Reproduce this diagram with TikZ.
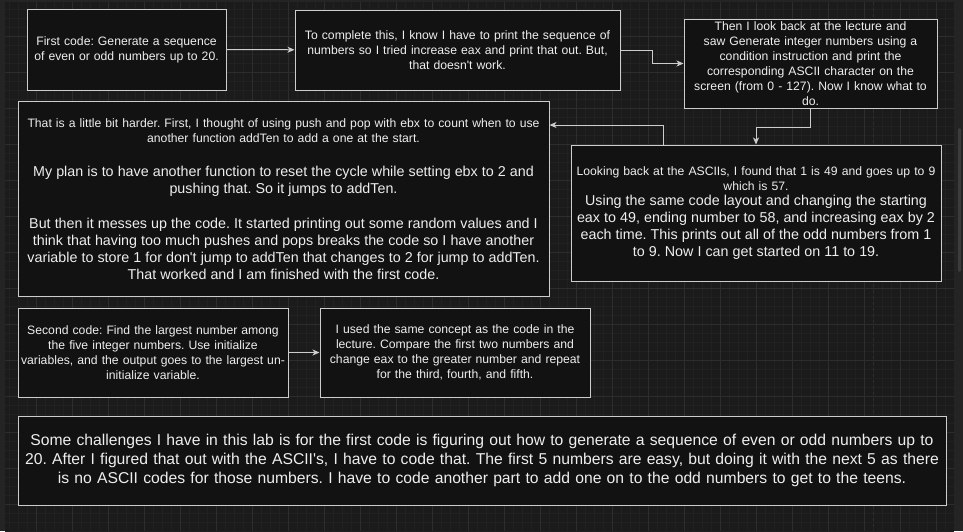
\documentclass[tikz,border=0pt]{standalone}
\usepackage{fontspec}
\setmainfont{Liberation Sans}[Ligatures=TeXOff]
\usetikzlibrary{arrows.meta}
\frenchspacing

\definecolor{bgcol}{HTML}{1B1B1B}
\definecolor{minorcol}{HTML}{212121}
\definecolor{majorcol}{HTML}{2D2D2D}
\definecolor{panelcol}{HTML}{242424}
\definecolor{thumbcol}{HTML}{3C3C3C}
\definecolor{boxcol}{HTML}{121212}
\definecolor{edgecol}{HTML}{CDCDCD}
\definecolor{txtcol}{HTML}{EEEEEE}

\newcommand{\fsa}{\fontsize{12.2}{15}\selectfont}
\newcommand{\fsb}{\fontsize{14.3}{17}\selectfont}
\newcommand{\fsc}{\fontsize{15.7}{19}\selectfont}

\tikzset{
  box/.style={draw=edgecol, fill=boxcol, text=txtcol, line width=1pt,
    inner sep=0pt, align=center, font=\fsa},
  conn/.style={draw=edgecol, line width=1pt,
    -{Stealth[length=7pt,width=6pt,inset=2pt]}},
}

\begin{document}
\begin{tikzpicture}[x=1pt,y=-1pt]
\useasboundingbox (0,0) rectangle (963,531);
% canvas
\fill [bgcol] (0,0) rectangle (963,531);
\draw [minorcol, line width=0.6pt, step=9pt] (5,2) grid (954,531);
\draw [majorcol, line width=0.8pt, step=36pt] (5,2) grid (954,531);
\draw [majorcol, line width=0.8pt, dashed] (108,2) -- (108,531) (873,2) -- (873,531);
\fill [panelcol] (0,0) rectangle (963,2);
\fill [panelcol] (0,0) rectangle (5,531);
\fill [panelcol] (954,2) rectangle (963,531);
\fill [thumbcol, rounded corners=1.5pt] (958,128) rectangle (961,272);
% boxes
\node [box, minimum width=199pt, minimum height=81pt, text width=199pt] (first) at (126.5,49.5)
  {First code: Generate a sequence\\of even or odd numbers up to 20.};
\node [box, minimum width=325pt, minimum height=80pt, text width=325pt] (tried) at (457.5,50)
  {To complete this, I know I have to print the sequence of\\numbers so I tried increase eax and print that out. But,\\that doesn't work.};
\node [box, minimum width=253pt, minimum height=89pt, text width=253pt] (lecture) at (810.5,63.5)
  {Then I look back at the lecture and\\saw Generate integer numbers using a\\condition instruction and print the\\corresponding ASCII character on the\\screen (from 0 - 127). Now I know what to\\do.};
\node [box, minimum width=531pt, minimum height=195pt, text width=531pt] (harder) at (283.5,199)
  {{\fsa That is a little bit harder. First, I thought of using push and pop with ebx to count when to use\\another function addTen to add a one at the start.\par}
   {\fsb\vspace{17pt}My plan is to have another function to reset the cycle while setting ebx to 2 and\\pushing that. So it jumps to addTen.\par}
   {\fsb\vspace{18pt}But then it messes up the code. It started printing out some random values and I\\think that having too much pushes and pops breaks the code so I have another\\variable to store 1 for don't jump to addTen that changes to 2 for jump to addTen.\\That worked and I am finished with the first code.\par}};
\node [box, minimum width=370pt, minimum height=136pt, text width=370pt] (ascii) at (756,213)
  {{\fsa Looking back at the ASCIIs, I found that 1 is 49 and goes up to 9\\which is 57.\par}
   {\fsb\vspace{-2pt}Using the same code layout and changing the starting\\eax to 49, ending number to 58, and increasing eax by 2\\each time. This prints out all of the odd numbers from 1\\to 9. Now I can get started on 11 to 19.\par}};
\node [box, minimum width=270pt, minimum height=89pt, text width=270pt] (second) at (153,352.5)
  {Second code: Find the largest number among\\the five integer numbers. Use initialize\\variables, and the output goes to the largest un-\\initialize variable.};
\node [box, minimum width=270pt, minimum height=89pt, text width=270pt] (concept) at (455,352.5)
  {I used the same concept as the code in the\\lecture. Compare the first two numbers and\\change eax to the greater number and repeat\\for the third, fourth, and fifth.};
\node [box, font=\fsc, minimum width=928pt, minimum height=89pt, text width=928pt] (challenge) at (482,460.5)
  {Some challenges I have in this lab is for the first code is figuring out how to generate a sequence of even or odd numbers up to\\20. After I figured that out with the ASCII's, I have to code that. The first 5 numbers are easy, but doing it with the next 5 as there\\is no ASCII codes for those numbers. I have to code another part to add one on to the odd numbers to get to the teens.};
% connectors
\draw [conn] (first) -- (tried);
\draw [conn] (tried.east) -- ++(32,0) |- (lecture.west);
\draw [conn] (lecture.south) -- ++(0,19) -| (ascii.north);
\draw [conn] ([xshift=-93pt]ascii.north) |- ([yshift=-24pt]harder.north east);
\draw [conn] (second) -- (concept);
\end{tikzpicture}
\end{document}
